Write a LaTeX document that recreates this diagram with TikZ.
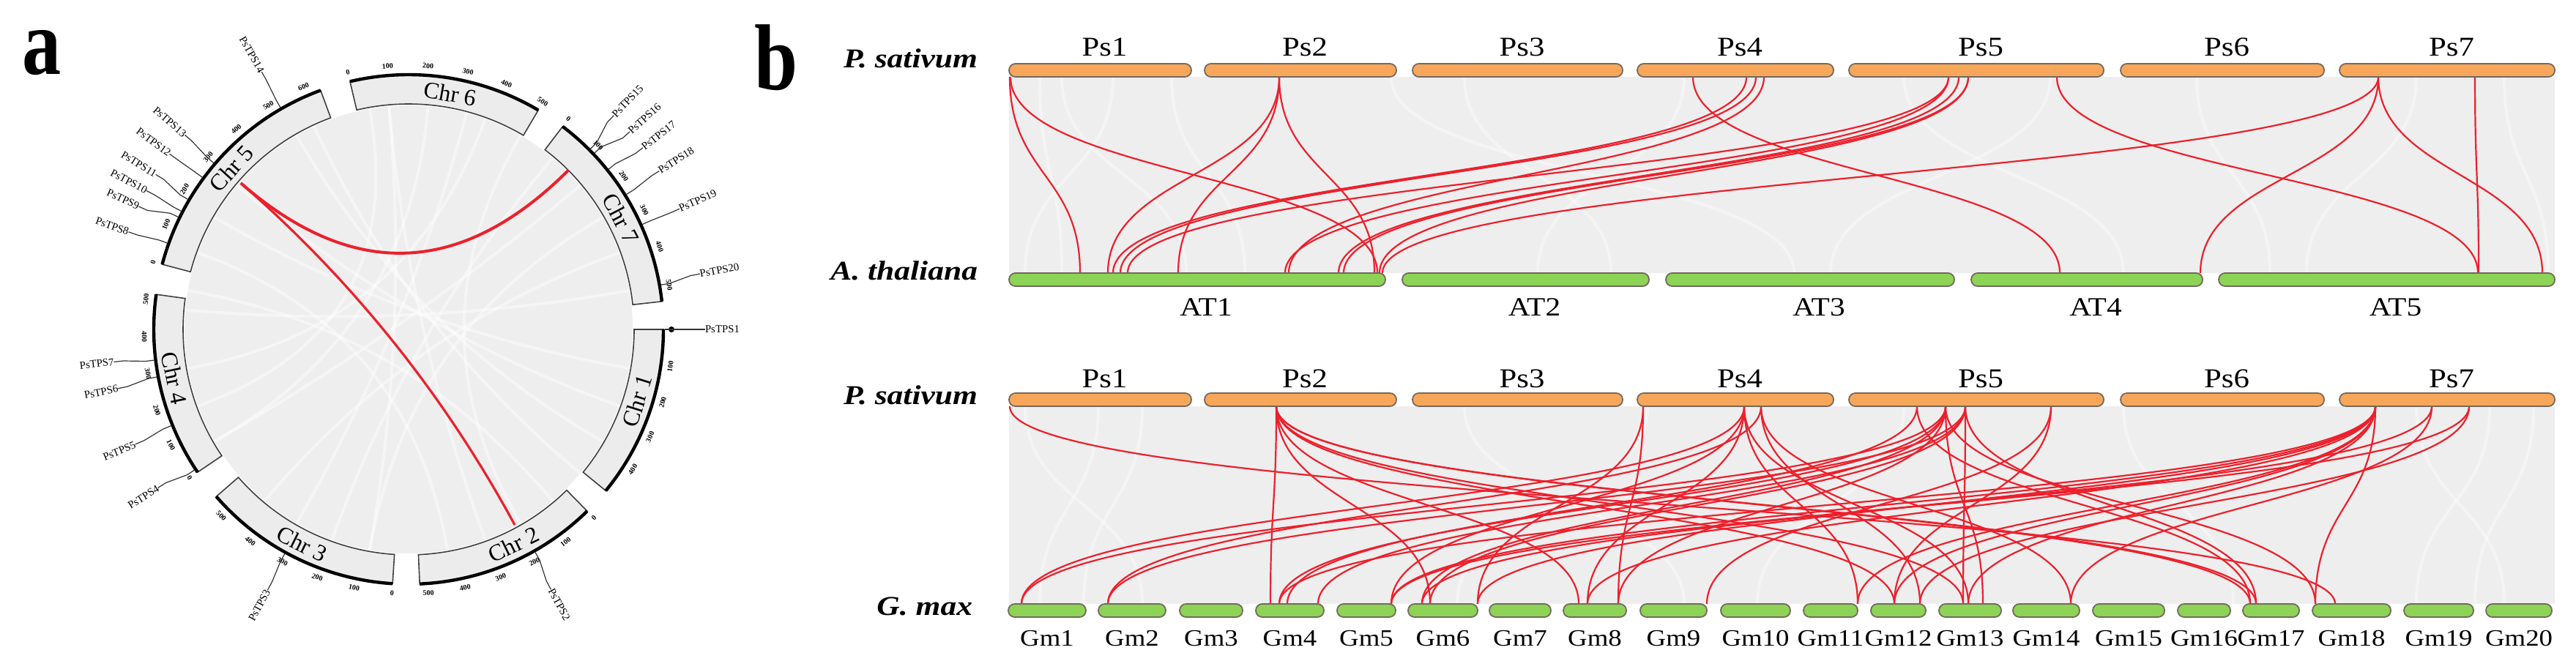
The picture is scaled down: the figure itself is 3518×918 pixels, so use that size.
\documentclass[tikz,border=0pt]{standalone}
\usepackage{fontspec}
\usepackage{graphicx}
\setmainfont{Liberation Serif}
\usetikzlibrary{calc}
\definecolor{linkred}{RGB}{236,32,44}
\definecolor{bggray}{RGB}{238,238,238}
\definecolor{boxgray}{RGB}{236,236,236}
\definecolor{orangebar}{RGB}{248,167,90}
\definecolor{greenbar}{RGB}{140,211,86}
\definecolor{baredge}{RGB}{115,105,95}
\newcommand\lkA[2]{\draw[redlink] (#1,105) .. controls (#1,239) and (#2,239) .. (#2,373);}
\newcommand\lkB[2]{\draw[redlink] (#1,555) .. controls (#1,690) and (#2,690) .. (#2,825);}
\newcommand\wsA[2]{\draw[wstreak] (#1,105) .. controls (#1,239) and (#2,239) .. (#2,373);}
\newcommand\wsB[2]{\draw[wstreak] (#1,555) .. controls (#1,690) and (#2,690) .. (#2,825);}
\begin{document}
\begin{tikzpicture}[x=0.25pt,y=-0.25pt,
  redlink/.style={draw=linkred, line width=0.55pt},
  circlink/.style={draw=linkred, line width=1pt},
  wstreak/.style={draw=white, line width=1pt, opacity=0.4},
  cstreak/.style={draw=white, line width=1pt, opacity=0.45},
  psbar/.style={fill=orangebar, draw=baredge, line width=0.45pt, rounded corners=2.2pt},
  gbar/.style={fill=greenbar, draw=baredge, line width=0.45pt, rounded corners=2.2pt},
  txt/.style={inner sep=0pt, outer sep=0pt},
  pslab/.style={txt, anchor=base, font=\fontsize{9.3}{11}\selectfont},
  atlab/.style={txt, anchor=base, font=\fontsize{9}{11}\selectfont},
  gmlab/.style={txt, anchor=base, font=\fontsize{8}{10}\selectfont},
  splab/.style={txt, anchor=base east, font=\bfseries\itshape\fontsize{9.3}{11}\selectfont},
  panlab/.style={txt, anchor=base west, font=\bfseries\fontsize{32}{34}\selectfont},
  chrbox/.style={fill=boxgray, draw=black!75, line width=0.4pt},
  chrout/.style={draw=black, line width=1.1pt},
  chrlab/.style={txt, font=\fontsize{8}{9}\selectfont},
  ticklab/.style={txt, font=\bfseries\fontsize{2.5}{3}\selectfont},
  genelab/.style={txt, font=\fontsize{3.7}{4}\selectfont},
  geneline/.style={draw=black!80, line width=0.3pt}
]
\useasboundingbox (0,0) rectangle (3518,918);

% ---------------- panel labels
\node[panlab] (la) at (30,102) {\scalebox{0.83}[1]{a}};
\node[panlab] (lb) at (1030,123) {\scalebox{0.83}[1]{b}};

% ---------------- panel a : circos
\begin{scope}[shift={(558,450)},x=0.25pt,y=0.25pt]
  \fill[bggray] (0,0) circle[radius=306];
  \foreach \p/\q in {100/200, 95/-100, 70/190, 60/-60, 20/-130, -10/150, -30/120, -50/170, -70/95, -100/30, -120/75, -150/40, 140/-20, 175/10, 160/-80, 85/-150, 50/-110, 115/-40}
    \draw[cstreak] (\p:306) .. controls (\p:100) and (\q:100) .. (\q:306);
  \foreach \c/\s/\e/\r/\kz/\n/\la in {1/0/-39.3/8.0/1/4/-17.4, 2/-45.5/-87.5/8.04/0/5/-64, 3/-93.6/-139/8.3/0/5/-116.4, 4/-145.9/-187.9/8.14/0/5/-168.3, 5/165.2/110.2/8.63/0/6/137.8, 6/103.3/59.4/8.76/0/5/80, 7/52.8/6.3/8.64/0/5/27.6} {
    \draw[chrbox] (\s:308) arc[start angle=\s, end angle=\e, radius=308] -- (\e:348) arc[start angle=\e, end angle=\s, radius=348] -- cycle;
    \draw[chrout] (\s:348) arc[start angle=\s, end angle=\e, radius=348];
    \pgfmathsetmacro\lr{ifthenelse(sin(\la)>0,\la-90,\la+90)}
    \node[chrlab, rotate=\lr] (chr\c) at (\la:327) {Chr \c};
    \foreach \k in {\kz,...,\n} {
      \pgfmathsetmacro\ta{\s-\r*\k}
      \pgfmathsetmacro\tr{ifthenelse(sin(\ta)>0,\ta-90,\ta+90)}
      \node[ticklab, rotate=\tr] (t\c-\k) at (\ta:361) {\ifnum\k=0 0\else\k00\fi};
    }
  }
  % genes right side
  \fill (0:359) circle[radius=4];
  \foreach \g/\ag/\al in {1/0/0, 2/-60.4/-61.3, 15/44.8/46.2, 16/43.5/41.8, 17/38.7/37.8, 18/31.8/32.3, 19/24.2/24, 20/10/10.8} {
    \node[genelab, anchor=west, rotate=\al] (g\g) at (\al:405) {PsTPS\g};
    \draw[geneline] (\ag:350) -- (\ag:362) -- (\al:392) -- (g\g.west);
  }
  % genes left side
  \foreach \g/\ag/\al in {3/-118.9/-118.4, 4/-146.7/-147.7, 5/-157.9/-157.2, 6/-169.3/-168.5, 7/-173.1/-173.7, 8/160.3/160.8, 9/154/155.5, 10/152.5/152.1, 11/149.5/148.5, 12/143.6/143.7, 13/139.5/139, 14/120/119.7} {
    \pgfmathsetmacro\rr{\al+180}
    \node[genelab, anchor=east, rotate=\rr] (g\g) at (\al:405) {PsTPS\g};
    \draw[geneline] (\ag:350) -- (\ag:362) -- (\al:392) -- (g\g.east);
  }
  % links
  \coordinate (c5) at (138.9:304);
  \coordinate (c7) at (44.9:308);
  \coordinate (c2) at (-61.5:304);
  \draw[circlink] (c5) .. controls (138.9:101) and (44.9:103) .. (c7);
  \draw[circlink, line width=0.8pt] (c5) .. controls (138.9:101) and (-61.5:101) .. (c2);
\end{scope}

% ---------------- panel b : backgrounds
\fill[bggray] (1378,105) rectangle (3489,373);
\fill[bggray] (1378,555) rectangle (3489,825);
\wsA{1450}{1620} \wsA{1520}{1400} \wsA{1600}{1700} \wsA{2000}{2200} \wsA{2300}{2100}
\wsA{2600}{2900} \wsA{3000}{3100} \wsA{3300}{3150} \wsA{3420}{3480} \wsA{1900}{2450}
\wsA{1420}{1450} \wsA{2800}{2500}
\wsB{1400}{1560} \wsB{1500}{1420} \wsB{1560}{1480} \wsB{2000}{2300} \wsB{2250}{1990}
\wsB{2900}{3050} \wsB{3300}{3420} \wsB{3400}{3300} \wsB{3460}{3380} \wsB{2600}{2400}

% ---------------- panel b : links top
\lkA{1379}{1475} \lkA{1380}{1881} \lkA{1747}{1513} \lkA{1747}{1609} \lkA{1747}{1877}
\lkA{2385}{1520} \lkA{2398}{1530} \lkA{2409}{1760} \lkA{2312}{2813}
\lkA{2661}{1540} \lkA{2661}{1755} \lkA{2675}{1828} \lkA{2688}{1835} \lkA{2688}{1884}
\lkA{2809}{3384} \lkA{3248}{1888} \lkA{3248}{3005} \lkA{3248}{3472} \lkA{3380}{3385}

% ---------------- panel b : links bottom
\lkB{1379}{3189}
\lkB{1743}{1735} \lkB{1743}{1953} \lkB{1743}{2156} \lkB{1743}{2587} \lkB{1743}{2681} \lkB{1743}{3073} \lkB{1743}{3081}
\lkB{2244}{2210} \lkB{2244}{2018}
\lkB{2382}{1395} \lkB{2382}{1900} \lkB{2382}{2168} \lkB{2382}{2688} \lkB{2382}{2537}
\lkB{2405}{1513} \lkB{2405}{2622} \lkB{2405}{2828}
\lkB{2618}{1758} \lkB{2618}{3073}
\lkB{2657}{1395} \lkB{2657}{1747} \lkB{2657}{1942} \lkB{2657}{2210} \lkB{2657}{2708} \lkB{2657}{3162}
\lkB{2684}{1513} \lkB{2684}{1800} \lkB{2684}{1953} \lkB{2684}{2681} \lkB{2684}{3081}
\lkB{2801}{2331} \lkB{2801}{2587}
\lkB{3244}{1747} \lkB{3244}{1900} \lkB{3244}{2018} \lkB{3244}{2168} \lkB{3244}{2537} \lkB{3244}{2587} \lkB{3244}{2688} \lkB{3244}{3162}
\lkB{3321}{1942} \lkB{3321}{2828}
\lkB{3372}{1900} \lkB{3372}{2622}

% ---------------- panel b : bars and labels
\foreach \i/\a/\b in {1/1378/1627, 2/1645/1907, 3/1929/2216, 4/2236/2504, 5/2525/2873, 6/2896/3174, 7/3195/3489} {
  \path[psbar] (\a,87) rectangle (\b,105);
  \node[pslab] (psA\i) at ({(\a+\b)/2+6},77) {\scalebox{1.15}[1]{Ps\i}};
  \path[psbar] (\a,537) rectangle (\b,555);
  \node[pslab] (psB\i) at ({(\a+\b)/2+6},530) {\scalebox{1.15}[1]{Ps\i}};
}
\foreach \i/\a/\b in {1/1378/1892, 2/1915/2252, 3/2275/2669, 4/2692/3008, 5/3030/3489} {
  \path[gbar] (\a,373) rectangle (\b,391);
  \node[atlab] (at\i) at ({(\a+\b)/2+12},432) {\scalebox{1.15}[1]{AT\i}};
}
\foreach \i/\a/\b in {1/1377/1483, 2/1500/1592, 3/1611/1697, 4/1715/1808, 5/1826/1906, 6/1923/2018, 7/2034/2118, 8/2135/2221, 9/2240/2331, 10/2350/2445, 11/2463/2537, 12/2555/2630, 13/2648/2733, 14/2749/2840, 15/2858/2956, 16/2974/3046, 17/3063/3140, 18/3158/3265, 19/3283/3378, 20/3395/3485} {
  \path[gbar] (\a,825) rectangle (\b,843);
  \node[gmlab] (gm\i) at ({(\a+\b)/2},882) {\scalebox{1.15}[1]{Gm\i}};
}
\node[splab] (spA) at (1335,93) {\scalebox{1.17}[1]{P. sativum}};
\node[splab] (spAT) at (1335,383) {\scalebox{1.17}[1]{A. thaliana}};
\node[splab] (spB) at (1335,553) {\scalebox{1.17}[1]{P. sativum}};
\node[splab] (spGM) at (1328,840) {\scalebox{1.17}[1]{G. max}};
\end{tikzpicture}
\end{document}
